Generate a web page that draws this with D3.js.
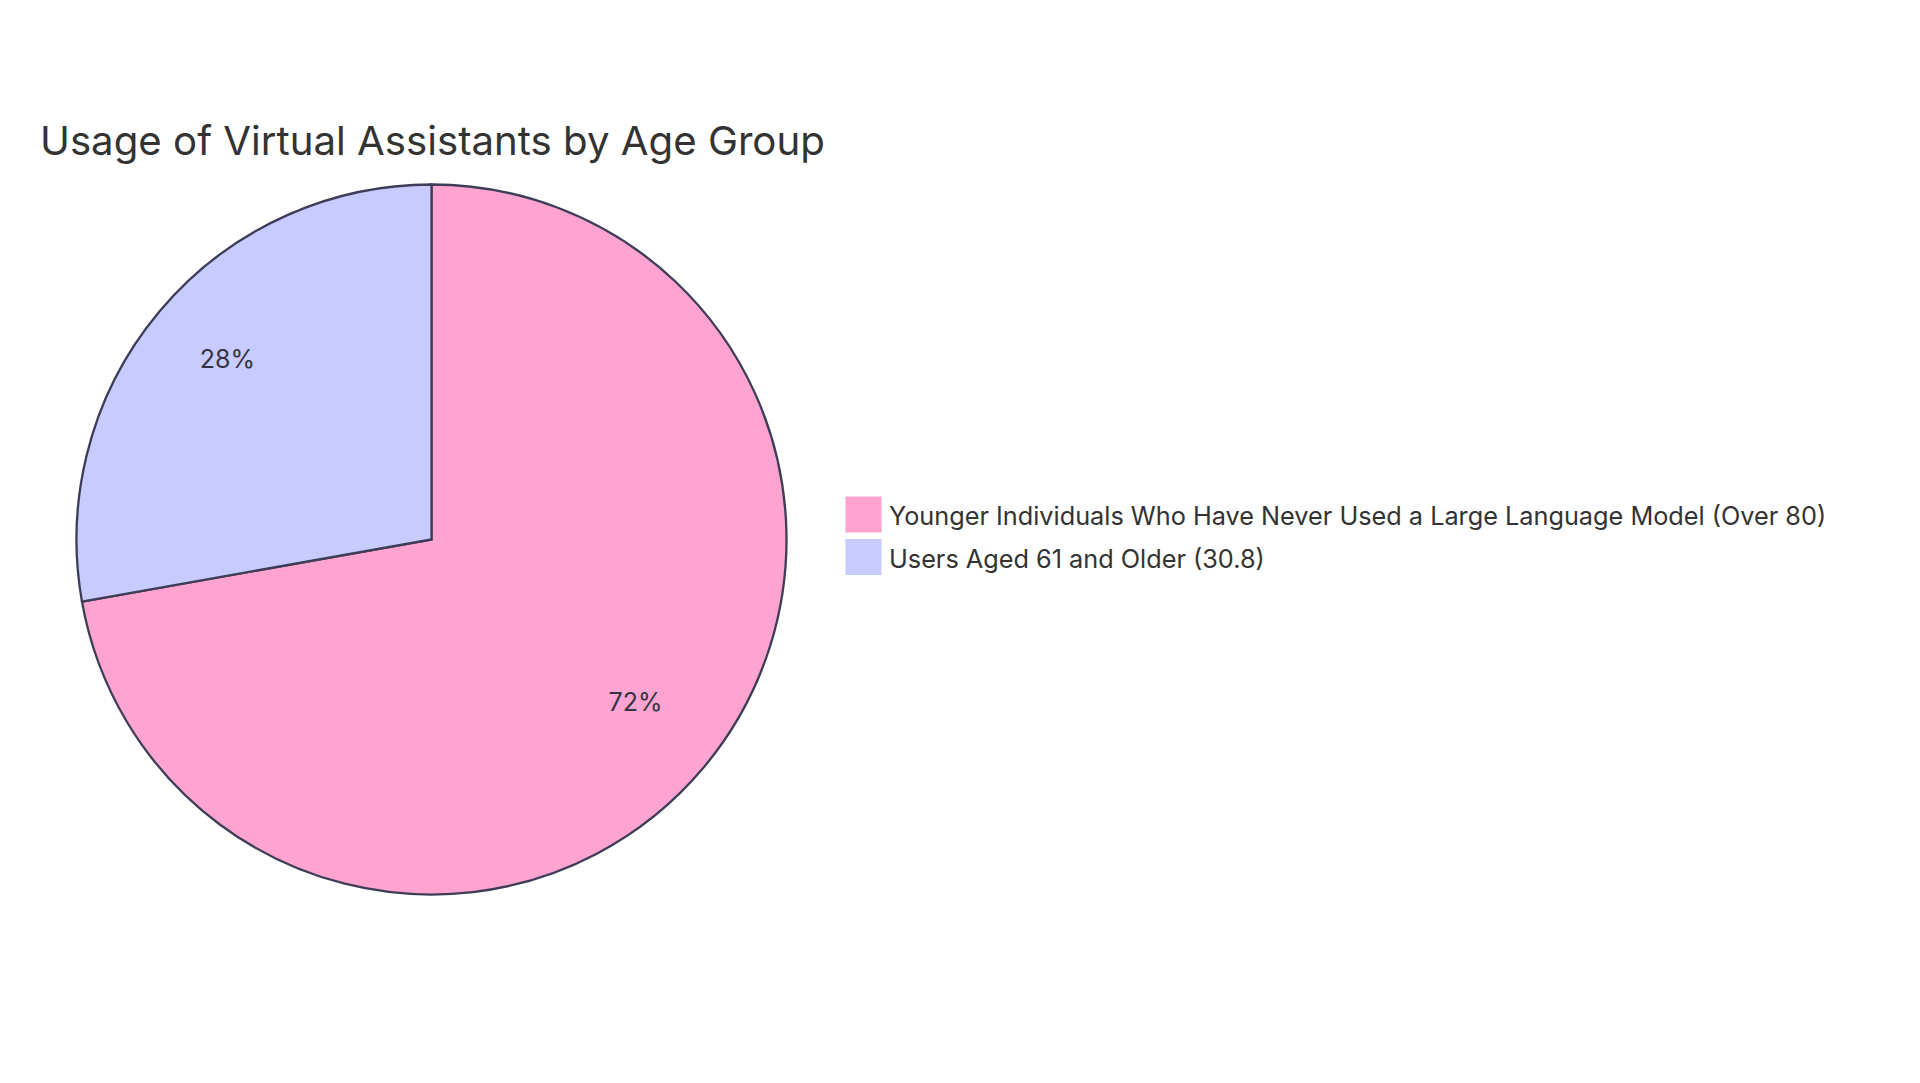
<!DOCTYPE html>
<html>
<head>
<meta charset="utf-8">
<script src="https://cdn.jsdelivr.net/npm/d3@7"></script>
<style>
  html, body { margin: 0; padding: 0; background: #ffffff; }
  svg text { font-family: Inter, "Open Sans", sans-serif; }
</style>
</head>
<body>
<svg id="chart" width="1920" height="1083"></svg>
<script>
const title = "Usage of Virtual Assistants by Age Group";
const categories = ["Younger Individuals Who Have Never Used a Large Language Model (Over 80)", "Users Aged 61 and Older (30.8)"];
const values = [80, 30.8];
const colors = ["#FFA3D0", "#C8CBFF"];

const svg = d3.select("#chart");
const cx = 431.5, cy = 539.5, radius = 355;

const data = categories.map((c, i) => ({ label: c, value: values[i], color: colors[i] }));
const total = d3.sum(values);

const pie = d3.pie().value(d => d.value).sort(null);
const arc = d3.arc().innerRadius(0).outerRadius(radius);
const labelArc = d3.arc().innerRadius(radius * 0.75).outerRadius(radius * 0.75);

const g = svg.append("g").attr("transform", `translate(${cx},${cy})`);
const arcs = pie(data);

g.selectAll("path.slice")
  .data(arcs)
  .enter().append("path")
  .attr("class", "slice")
  .attr("d", arc)
  .attr("fill", d => d.data.color)
  .attr("stroke", "#3d3d57")
  .attr("stroke-width", 2.3);

g.selectAll("text.pct")
  .data(arcs)
  .enter().append("text")
  .attr("class", "pct")
  .attr("transform", d => `translate(${labelArc.centroid(d)})`)
  .attr("text-anchor", "middle")
  .attr("font-size", 25)
  .attr("fill", "#333344")
  .text(d => Math.round(d.data.value / total * 100) + "%");

// Title
const t = svg.append("text")
  .attr("x", 40).attr("y", 155)
  .attr("font-size", 44)
  .attr("fill", "#333333")
  .text(title);
{
  const w = t.node().getComputedTextLength();
  t.attr("font-size", 44 * 785 / w);
}

// Legend
const legend = svg.append("g");
const items = legend.selectAll("g.item")
  .data(data)
  .enter().append("g")
  .attr("class", "item")
  .attr("transform", (d, i) => `translate(846, ${497 + i * 42.5})`);

items.append("rect")
  .attr("width", 35).attr("height", 35)
  .attr("fill", d => d.color)
  .attr("stroke", d => d.color);

const lt = items.append("text")
  .attr("x", 43).attr("y", 28)
  .attr("font-size", 28)
  .attr("fill", "#333333")
  .text(d => d.label);
{
  const w = lt.nodes()[0].getComputedTextLength();
  lt.attr("font-size", 28 * 938 / w);
}
</script>
</body>
</html>
